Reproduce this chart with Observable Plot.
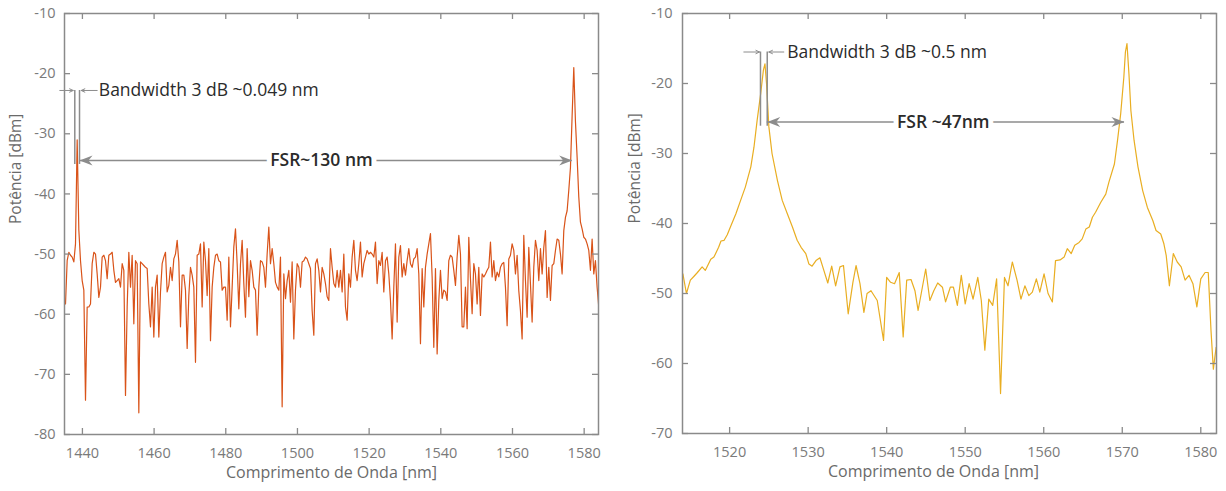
<!DOCTYPE html>
<html><head><meta charset="utf-8">
<script src="https://cdn.jsdelivr.net/npm/d3@7"></script>
<script src="https://cdn.jsdelivr.net/npm/@observablehq/plot@0.6"></script>
<style>
body{margin:0;background:#fff;}
#wrap{display:flex;width:1226px;height:491px;}
</style></head><body><div id="wrap"></div>
<script>
// ---------- Left panel: spectrum sampled on a uniform OSA grid ----------
const leftStart = 1435.28;   // nm, first sample
const leftStep = 0.465;      // nm, sample spacing
const leftDbm = [
-58.3,-51.1,-49.7,-50.2,-50.5,-51.3,-48.3,-31,-46,-51.1,
-54.4,-56.0,-74.3,-58.8,-58.8,-58.3,-51.6,-49.7,-50.0,-53.3,
-57.2,-55.5,-50.5,-50.2,-51.1,-54.1,-50.2,-50.0,-49.7,-52.7,
-54.7,-54.4,-54.1,-55.5,-51.6,-52.7,-73.5,-58.8,-49.7,-55.5,
-50.2,-61.6,-51.1,-51.6,-76.4,-51.3,-51.6,-51.9,-52.2,-52.4,
-58.3,-62.1,-55.5,-63.8,-55.5,-53.5,-63.8,-56.3,-51.6,-50.5,
-49.7,-56.3,-55.2,-52.2,-54.4,-50.8,-50.0,-47.7,-51.3,-62.1,
-53.5,-53.5,-56.0,-65.7,-56.9,-52.2,-53.5,-55.5,-68.0,-50.2,
-50.0,-48.3,
-58.8,-48.0,-51.1,-56.9,-49.1,-64.4,-55.5,-52.2,-50.2,-50.0,
-51.1,-51.3,-56.0,-55.5,-55.5,-61.0,-50.5,-62.1,-55.5,-48.8,
-45.8,-51.6,-59.1,-51.6,-47.7,-54.9,-60.5,-49.1,-57.1,-51.1,
-52.7,-55.5,-56.0,-63.5,-55.5,-51.1,-51.3,-52.2,-55.5,-50.0,
-45.5,-51.6,-49.1,-51.6,-54.7,-55.5,-56.0,-50.5,-75.4,-53.3,
-57.4,-54.4,-52.7,-58.0,-51.3,-64.1,-56.0,-51.6,-52.2,-55.5,
-51.3,-51.1,-50.5,-50.8,-51.6,-52.4,-59.4,-63.5,-51.6,-50.8,
-52.7,-56.3,-52.2,-53.3,-54.9,-57.1,-57.7,-49.1,-52.2,-54.9,
-55.5,
-52.7,-55.5,-52.7,-56.3,-50.0,-58.8,-61.0,-53.3,-55.5,-50.5,
-47.7,-52.7,-54.4,-51.6,-48.0,-53.8,-51.6,-50.5,-49.4,-50.0,
-49.7,-50.0,-50.5,-48.0,-54.9,-51.1,-51.9,-49.7,-56.3,-51.1,
-50.5,-53.3,-57.7,-64.1,-55.5,-48.3,-61.3,-50.5,-48.6,-53.8,
-51.6,-53.5,-51.1,-49.1,-51.6,-52.2,-50.8,-50.5,-49.1,-53.3,
-64.9,-52.4,-58.8,-52.2,-50.0,-48.3,-46.6,-53.8,-65.5,-52.4,
-66.6,-57.7,-52.7,-57.4,-56.0,-56.3,-57.7,-51.1,-50.2,-50.5,
-52.7,-55.2,-50.5,-46.9,-50.0,-62.1,-62.1,-55.5,-62.4,-47.2,
-54.1,
-59.9,-51.6,-53.3,-58.3,-52.2,-60.2,-53.3,-53.8,-53.3,-52.7,
-52.2,-48.0,-53.8,-51.1,-54.4,-53.0,-53.8,-52.2,-51.6,-51.4,
-55.5,-61.9,-50.8,-50.2,-48.3,-49.4,-53.3,-50.2,-56.1,-59.4,
-64.1,-46.9,-54.4,-60.5,-48.9,-55.0,-61.3,-52.2,-47.7,-49.4,
-54.4,-49.1,-53.3,-48.9,-46.1,-57.2,-52.2,-57.7,-51.9,-51.6,
-49.4,-47.5,-47.7,-50.0,-53.3,-46.1,-43.9,-42.8,-39.4,-35.6,
-27.0,-19.0,-28.0,-33.9,-40.5,-44.7,-45.8,-47.2,-47.5,-48.3,
-49.4,-52.7,-47.5,-53.3,-51.1,-55.5,-58.8
];

// ---------- Right panel ----------
const rightWl = [
1514.05,1514.5,1515.0,1515.5,1515.9,1516.5,1516.9,1517.6,1518.0,1518.6,
1518.9,1519.3,1519.7,1520.1,1520.8,1521.4,1522.0,1522.7,1523.1,1523.5,
1523.95,1524.3,1524.5,1524.7,1525.0,1525.4,1526.1,1526.7,1527.35,1528.0,
1528.6,1529.1,1529.7,1530.1,1530.5,1531.0,1531.5,1532.0,1532.5,1533.0,
1533.5,1534.05,1534.5,1535.1,1535.7,1536.1,1536.6,1537.1,1537.5,1538.0,
1538.8,1539.6,1540.0,1540.5,1541.0,1541.6,1542.1,1542.55,1543.1,1543.6,
1544.0,1544.4,1544.97,1545.5,1546.0,1546.5,1547.1,1547.5,1548.1,1548.5,
1549.0,1549.5,1550.0,1550.5,1551.0,1551.6,1552.05,1552.5,1553.0,1553.5,
1554.0,1554.5,1555.0,1555.45,1556.0,1556.6,1557.1,1557.6,1558.1,1558.55,
1559.06,1559.5,1560.04,1560.55,1561.1,1561.5,1562.08,1562.6,1563.0,1563.5,
1563.95,1564.5,1564.9,1565.36,1565.8,1566.2,1566.6,1567.25,1567.9,1568.3,
1569.0,1569.4,1569.8,1570.2,1570.4,1570.6,1570.85,1571.1,1571.5,1572.0,
1572.6,1573.2,1573.9,1574.3,1574.9,1575.3,1575.6,1576.0,1576.5,1577.0,
1577.5,1578.0,1578.5,1579.0,1579.5,1580.0,1580.55,1580.95,1581.3,1581.6,
1581.95
];
const rightDbm = [
-47.2,-50.0,-48.1,-47.5,-47.0,-46.2,-46.7,-45.1,-44.8,-43.4,
-42.5,-42.4,-41.6,-40.5,-38.6,-36.7,-34.8,-31.9,-29.1,-25.3,
-21.5,-18.1,-17.2,-20.0,-26.2,-30.0,-33.9,-36.7,-38.6,-40.5,
-42.4,-43.4,-44.3,-45.8,-46.1,-45.3,-44.9,-46.7,-48.5,-46.1,
-48.9,-46.2,-46.0,-52.9,-48.4,-46.0,-48.6,-52.7,-50.0,-49.6,
-51.0,-56.7,-47.7,-48.4,-48.6,-47.0,-56.2,-48.1,-48.0,-49.6,
-52.4,-50.0,-46.5,-51.0,-49.6,-48.5,-49.1,-51.2,-49.1,-49.1,
-51.7,-47.4,-51.5,-48.6,-50.8,-47.7,-51.0,-58.1,-50.8,-51.7,
-47.9,-64.3,-47.7,-48.9,-45.5,-48.1,-50.8,-48.9,-50.3,-49.8,
-47.9,-49.8,-47.2,-50.0,-51.2,-45.3,-45.2,-44.8,-43.6,-44.3,
-43.1,-42.7,-42.2,-40.8,-40.5,-39.1,-38.4,-37.0,-35.8,-34.1,
-31.5,-28.1,-24.3,-19.1,-15.5,-14.3,-18.6,-23.9,-28.1,-31.9,
-35.3,-37.7,-39.6,-41.0,-41.5,-42.9,-44.6,-48.9,-44.3,-45.5,
-46.2,-48.1,-47.4,-48.6,-51.9,-47.9,-47.0,-47.0,-55.3,-60.8,
-57.7
];

// ---------- Axes ----------
const leftXDomain = [1435, 1584];
const leftYDomain = [-80, -10];
const leftXTicks = [1440, 1460, 1480, 1500, 1520, 1540, 1560, 1580];
const leftYTicks = [-80, -70, -60, -50, -40, -30, -20, -10];
const rightXDomain = [1514, 1582];
const rightYDomain = [-70, -10];
const rightXTicks = [1520, 1530, 1540, 1550, 1560, 1570, 1580];
const rightYTicks = [-70, -60, -50, -40, -30, -20, -10];
const xLabel = "Comprimento de Onda [nm]";
const yLabel = "Potência [dBm]";

// ---------- Annotations (data units) ----------
const leftBwLines = [1437.87, 1439.19];       // nm
const leftBwSpan = [-22.8, -35.1];            // dBm (top, bottom)
const leftBwArrows = [[1433.69, 1437.43], [1444.12, 1439.66]]; // from -> to
const leftBwText = {wl: 1444.3, dbm: -22.8, label: "Bandwidth 3 dB ~0.049 nm"};
const leftFsr = {from: 1439.19, to: 1576.66, dbm: -34.44, wl: 1506.7, label: "FSR~130 nm"};

const rightBwLines = [1523.93, 1524.79];
const rightBwSpan = [-15.5, -26.1];
const rightBwArrows = [[1521.81, 1523.81], [1526.9, 1524.99]];
const rightBwText = {wl: 1527.2, dbm: -15.5, label: "Bandwidth 3 dB ~0.5 nm"};
const rightFsr = {from: 1524.79, to: 1570.28, dbm: -25.5, wl: 1547.2, label: "FSR ~47nm"};

const gray = "#8c8c8c";
const axisGray = "#8a8a8a";
const headRight = {draw(ctx){ctx.moveTo(0,0);ctx.lineTo(-13,-5);ctx.lineTo(-9,0);ctx.lineTo(-13,5);ctx.closePath();}};
const headLeft = {draw(ctx){ctx.moveTo(0,0);ctx.lineTo(13,-5);ctx.lineTo(9,0);ctx.lineTo(13,5);ctx.closePath();}};

function panel(o) {
  const plotW = o.width - o.ml - o.mr;
  const plotH = o.height - o.mt - o.mb;
  const tick = 6;
  const arrows = o.bwArrows.map(([a, b]) => ({x1: a, x2: b, y: o.bwText.dbm}));
  return Plot.plot({
    width: o.width, height: o.height,
    marginLeft: o.ml, marginRight: o.mr, marginTop: o.mt, marginBottom: o.mb,
    style: {fontFamily: "'Open Sans', sans-serif", fontSize: "14px", background: "white", overflow: "visible"},
    x: {domain: o.xDomain},
    y: {domain: o.yDomain},
    marks: [
      Plot.line(o.data, {x: "wl", y: "dbm", stroke: o.color, strokeWidth: 1.2, clip: true}),
      Plot.frame({stroke: axisGray, strokeWidth: 1.5}),
      Plot.tickX(o.xTicks, {x: d => d, stroke: axisGray, strokeWidth: 1.3, insetTop: plotH - tick}),
      Plot.tickX(o.xTicks, {x: d => d, stroke: axisGray, strokeWidth: 1.3, insetBottom: plotH - tick}),
      Plot.tickY(o.yTicks, {y: d => d, stroke: axisGray, strokeWidth: 1.3, insetRight: plotW - tick}),
      Plot.tickY(o.yTicks, {y: d => d, stroke: axisGray, strokeWidth: 1.3, insetLeft: plotW - tick}),
      Plot.axisX({ticks: o.xTicks, tickSize: 0, tickPadding: 13, label: null, tickFormat: d => String(d), fontSize: 14.5, color: "#7a7a7a"}),
      Plot.axisY({ticks: o.yTicks, tickSize: 0, tickPadding: o.yPad, label: null, tickFormat: d => String(d), fontSize: 14.5, color: "#7a7a7a"}),
      Plot.text([xLabel], {text: d => d, frameAnchor: "bottom", dy: 43, dx: o.xLabelDx, fontSize: 16, fill: "#6a6a6a"}),
      Plot.text([yLabel], {text: d => d, frameAnchor: "left", dx: -o.yLabelOff, rotate: -90, fontSize: 15.5, fill: "#6a6a6a"}),
      // bandwidth markers
      Plot.ruleX(o.bwLines, {x: d => d, y1: o.bwSpan[0], y2: o.bwSpan[1], stroke: gray, strokeWidth: 1.5}),
      Plot.arrow(arrows, {x1: "x1", x2: "x2", y1: "y", y2: "y", stroke: gray, strokeWidth: 1, headLength: 6, headAngle: 50}),
      Plot.text([o.bwText], {x: "wl", y: "dbm", text: "label", textAnchor: "start", dx: 1, fontSize: 17.5, fill: "#2b2b2b"}),
      // FSR arrow
      Plot.ruleY([o.fsr], {y: "dbm", x1: "from", x2: "to", stroke: gray, strokeWidth: 1.5}),
      Plot.dot([o.fsr], {x: "from", y: "dbm", symbol: headLeft, fill: gray, stroke: null, r: 5}),
      Plot.dot([o.fsr], {x: "to", y: "dbm", symbol: headRight, fill: gray, stroke: null, r: 5}),
      Plot.text([o.fsr], {x: "wl", y: "dbm", text: "label", fontSize: 17.5, fontWeight: 600, fill: "#2b2b2b", stroke: "white", strokeWidth: 10})
    ]
  });
}

const wrap = document.getElementById("wrap");
const leftData = leftDbm.map((v, i) => ({wl: leftStart + i * leftStep, dbm: v}));
const rightData = rightWl.map((w, i) => ({wl: w, dbm: rightDbm[i]}));

wrap.append(panel({
  width: 610, height: 491, ml: 64, mr: 12, mt: 13, mb: 57,
  xDomain: leftXDomain, yDomain: leftYDomain, xTicks: leftXTicks, yTicks: leftYTicks,
  data: leftData, color: "#D95319", yPad: 9, yLabelOff: 48, xLabelDx: 0,
  bwLines: leftBwLines, bwSpan: leftBwSpan, bwArrows: leftBwArrows, bwText: leftBwText, fsr: leftFsr
}));
wrap.append(panel({
  width: 616, height: 491, ml: 72, mr: 10, mt: 13, mb: 58,
  xDomain: rightXDomain, yDomain: rightYDomain, xTicks: rightXTicks, yTicks: rightYTicks,
  data: rightData, color: "#E9AE22", yPad: 10, yLabelOff: 47, xLabelDx: -16,
  bwLines: rightBwLines, bwSpan: rightBwSpan, bwArrows: rightBwArrows, bwText: rightBwText, fsr: rightFsr
}));
</script></body></html>
